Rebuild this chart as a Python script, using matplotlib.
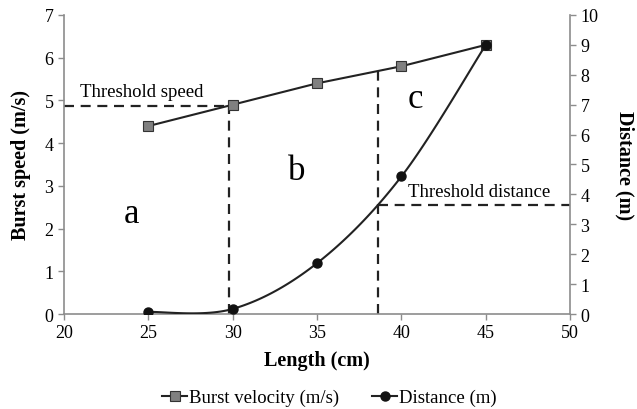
import numpy as np
import matplotlib
matplotlib.use("Agg")
import matplotlib.pyplot as plt
from matplotlib.lines import Line2D

plt.rcParams['font.family'] = ['Liberation Serif', 'DejaVu Serif']

length = [25, 30, 35, 40, 45]
burst_velocity = [4.4, 4.9, 5.4, 5.8, 6.3]
distance = [0.07, 0.17, 1.7, 4.6, 9.0]

threshold_speed = 4.87
threshold_speed_len = 29.8
threshold_dist = 3.65
threshold_dist_len = 38.6


def smooth(x, y, n=30):
    # Excel-style smoothed line (Catmull-Rom Bezier)
    x = np.asarray(x, float); y = np.asarray(y, float)
    P = np.column_stack([x, y])
    out = []
    for i in range(len(P) - 1):
        p0 = P[i - 1] if i > 0 else P[i]
        p1 = P[i]; p2 = P[i + 1]
        p3 = P[i + 2] if i + 2 < len(P) else P[i + 1]
        c1 = p1 + (p2 - p0) / 6.0
        c2 = p2 - (p3 - p1) / 6.0
        t = np.linspace(0, 1, n)[:, None]
        seg = ((1 - t) ** 3) * p1 + 3 * ((1 - t) ** 2) * t * c1 + 3 * (1 - t) * t ** 2 * c2 + t ** 3 * p2
        out.append(seg if i == 0 else seg[1:])
    s = np.vstack(out)
    return s[:, 0], s[:, 1]


fig = plt.figure(figsize=(6.37, 4.10), dpi=100)
ax = fig.add_axes([0.1005, 0.2317, 0.7945, 0.7293])
ax2 = ax.twinx()

grey = '#8c8c8c'
for a in (ax, ax2):
    a.spines['top'].set_visible(False)
    for s in ('left', 'right', 'bottom'):
        a.spines[s].set_color(grey)
        a.spines[s].set_linewidth(1.2)
    a.tick_params(colors=grey, labelcolor='black', labelsize=13, length=4, width=1)

ax.set_xlim(20, 50)
ax.set_ylim(0, 7)
ax2.set_ylim(0, 10)
ax.set_xticks(range(20, 51, 5))
ax.set_yticks(range(0, 8))
ax2.set_yticks(range(0, 11))
ax.spines['right'].set_visible(False)
ax2.spines['left'].set_visible(False)
ax2.spines['bottom'].set_visible(False)

ax.plot(length, burst_velocity, color='#222222', lw=1.5, marker='s', ms=7.5,
        mfc='#808080', mec='#333333', mew=0.8, zorder=5)

sx, sy = smooth(length, distance)
ax2.plot(sx, sy, color='#222222', lw=1.5, zorder=5)
ax2.plot(length, distance, ls='none', marker='o', ms=6.5, color='#111111', zorder=6)

dash = dict(color='#222222', lw=1.6, ls=(0, (4.5, 3)))
ax.plot([20, threshold_speed_len], [threshold_speed, threshold_speed], **dash)
ax.plot([threshold_speed_len, threshold_speed_len], [0, threshold_speed], **dash)
vel_at = np.interp(threshold_dist_len, length, burst_velocity)
ax.plot([threshold_dist_len, threshold_dist_len], [0, vel_at], **dash)
ax2.plot([threshold_dist_len, 50], [threshold_dist, threshold_dist], **dash)

ax.text(20.95, 5.0, 'Threshold speed', fontsize=13.5, ha='left', va='bottom')
ax2.text(40.4, 3.8, 'Threshold distance', fontsize=13.5, ha='left', va='bottom')
ax.text(24, 2.35, 'a', fontsize=25, ha='center', va='center')
ax.text(33.8, 3.35, 'b', fontsize=25, ha='center', va='center')
ax.text(40.8, 5.05, 'c', fontsize=25, ha='center', va='center')

ax.set_xlabel('Length (cm)', fontsize=14.5, fontweight='bold', labelpad=6)
ax.set_ylabel('Burst speed (m/s)', fontsize=14.5, fontweight='bold', labelpad=10)
ax2.set_ylabel('Distance (m)', fontsize=14.5, fontweight='bold', rotation=270, labelpad=26)

handles = [
    Line2D([], [], color='#222222', lw=1.5, marker='s', ms=7.5, mfc='#808080', mec='#333333', mew=0.8),
    Line2D([], [], color='#222222', lw=1.5, marker='o', ms=6.5, mfc='#111111', mec='#111111'),
]
fig.legend(handles, ['Burst velocity (m/s)', 'Distance (m)'], loc='center',
           bbox_to_anchor=(0.517, 0.028), ncol=2, frameon=False, fontsize=13.5,
           handlelength=1.3, handletextpad=0.1, columnspacing=1.8)

fig.savefig('out.png', dpi=100)
